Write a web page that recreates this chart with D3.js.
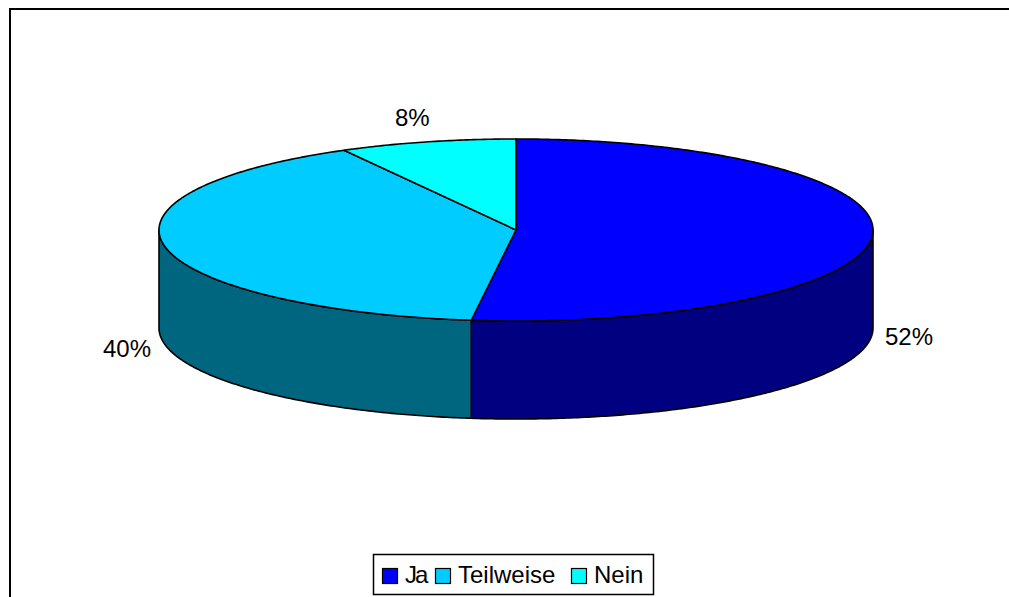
<!DOCTYPE html>
<html>
<head>
<meta charset="utf-8">
<script src="https://cdn.jsdelivr.net/npm/d3@7"></script>
<style>
  html, body { margin: 0; padding: 0; background: #fff; overflow: hidden; width: 1009px; height: 597px; }
  svg { display: block; overflow: hidden; }
  text { font-family: "Liberation Sans", Arial, sans-serif; fill: #000; }
</style>
</head>
<body>
<svg id="chart" width="1009" height="597"></svg>
<script>
// Survey answers (share in percent)
const categories = ["Ja", "Teilweise", "Nein"];
const values = [52, 40, 8];
const valueLabels = ["52%", "40%", "8%"];

// Appearance
const topColors = ["#0000FF", "#00CCFF", "#00FFFF"];
const sideColors = ["#000080", "#006680", "#008080"];
const labelPos = [[885, 345], [103, 357], [395, 126]];

const svg = d3.select("#chart");

// page background
svg.append("rect")
  .attr("x", 0).attr("y", 0).attr("width", 1009).attr("height", 597)
  .attr("fill", "#fff");

// chart frame: only the top and left borders fall inside the page
svg.append("line")
  .attr("x1", 10).attr("y1", 9).attr("x2", 1009).attr("y2", 9)
  .attr("stroke", "#000").attr("stroke-width", 2);
svg.append("line")
  .attr("x1", 10).attr("y1", 8).attr("x2", 10).attr("y2", 597)
  .attr("stroke", "#000").attr("stroke-width", 2);

// elliptical projection of the tilted pie
const cx = 516, cy = 230, rx = 357, ry = 91, depth = 98;
const xs = d3.scaleLinear().domain([-1, 1]).range([cx - rx, cx + rx]);
const ys = d3.scaleLinear().domain([-1, 1]).range([cy - ry, cy + ry]);
const pt = (a, dz = 0) => [xs(Math.sin(a)), ys(-Math.cos(a)) + dz];

const pie = d3.pie().sort(null).value(d => d);
const arcs = pie(values);

function arcPoints(a0, a1, dz) {
  const n = Math.max(2, Math.ceil(Math.abs(a1 - a0) / 0.01));
  return d3.range(n + 1).map(i => pt(a0 + (a1 - a0) * i / n, dz));
}

const g = svg.append("g")
  .attr("stroke", "#000").attr("stroke-width", 1.6)
  .attr("stroke-linejoin", "round");

// visible side walls (front half of the cylinder)
const frontStart = Math.PI / 2, frontEnd = 3 * Math.PI / 2;
arcs.forEach((d, i) => {
  const s = Math.max(d.startAngle, frontStart);
  const e = Math.min(d.endAngle, frontEnd);
  if (e <= s) return;
  const pts = arcPoints(s, e, 0).concat(arcPoints(e, s, depth));
  g.append("path")
    .attr("d", d3.line()(pts) + "Z")
    .attr("fill", sideColors[i]);
});

// top face wedges
arcs.forEach((d, i) => {
  const pts = [[cx, cy]].concat(arcPoints(d.startAngle, d.endAngle, 0));
  g.append("path")
    .attr("d", d3.line()(pts) + "Z")
    .attr("fill", topColors[i]);
});

// percentage labels
svg.selectAll("text.pct")
  .data(arcs)
  .join("text")
  .attr("class", "pct")
  .attr("x", (d, i) => labelPos[i][0])
  .attr("y", (d, i) => labelPos[i][1])
  .attr("font-size", 24)
  .text((d, i) => valueLabels[i]);

// legend
const legend = svg.append("g");
legend.append("rect")
  .attr("x", 373.5).attr("y", 554.5).attr("width", 280).attr("height", 40)
  .attr("fill", "#fff").attr("stroke", "#000").attr("stroke-width", 1.5);
const legX = [382, 435, 571];
const legItems = legend.selectAll("g.item")
  .data(categories)
  .join("g")
  .attr("class", "item")
  .attr("transform", (d, i) => `translate(${legX[i]},0)`);
legItems.append("rect")
  .attr("x", 0.5).attr("y", 568.5).attr("width", 15).attr("height", 15)
  .attr("fill", (d, i) => topColors[i])
  .attr("stroke", "#000").attr("stroke-width", 1.2);
legItems.append("text")
  .attr("x", 23).attr("y", 583)
  .attr("font-size", 24)
  .attr("letter-spacing", (d, i) => i === 0 ? -2 : 0)
  .text(d => d);

// keep the right margin of the page clear
svg.append("rect")
  .attr("x", 1002).attr("y", 10).attr("width", 7).attr("height", 587)
  .attr("fill", "#fff");
</script>
</body>
</html>
